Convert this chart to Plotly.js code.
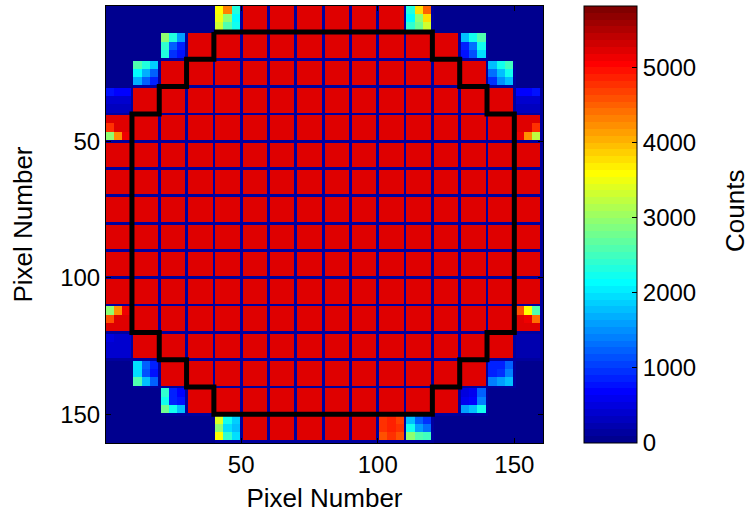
<!DOCTYPE html>
<html>
<head>
<meta charset="utf-8">
<script src="https://cdn.plot.ly/plotly-3.0.1.min.js"></script>
<style>html,body{margin:0;padding:0;background:#fff;}#chart{width:751px;height:513px;}</style>
</head>
<body>
<div id="chart"></div>
<script>
// ---- data ----
// mean counts per 10x10 detector tile (16 x 16 tiles, top row first); 0 = partial tile (see partialTiles)
const tileCounts = [
  [30,30,30,30,0,5250,5250,5250,5250,5250,5250,0,30,30,30,30],
  [30,30,0,5250,5250,5250,5250,5250,5250,5250,5250,5250,5250,0,30,30],
  [30,0,5250,5250,5250,5250,5250,5250,5250,5250,5250,5250,5250,5250,0,30],
  [0,5250,5250,5250,5250,5250,5250,5250,5250,5250,5250,5250,5250,5250,5250,0],
  [0,5250,5250,5250,5250,5250,5250,5250,5250,5250,5250,5250,5250,5250,5250,0],
  [5250,5250,5250,5250,5250,5250,5250,5250,5250,5250,5250,5250,5250,5250,5250,5250],
  [5250,5250,5250,5250,5250,5250,5250,5250,5250,5250,5250,5250,5250,5250,5250,5250],
  [5250,5250,5250,5250,5250,5250,5250,5250,5250,5250,5250,5250,5250,5250,5250,5250],
  [5250,5250,5250,5250,5250,5250,5250,5250,5250,5250,5250,5250,5250,5250,5250,5250],
  [5250,5250,5250,5250,5250,5250,5250,5250,5250,5250,5250,5250,5250,5250,5250,5250],
  [5250,5250,5250,5250,5250,5250,5250,5250,5250,5250,5250,5250,5250,5250,5250,5250],
  [0,5250,5250,5250,5250,5250,5250,5250,5250,5250,5250,5250,5250,5250,5250,0],
  [0,5250,5250,5250,5250,5250,5250,5250,5250,5250,5250,5250,5250,5250,5250,0],
  [30,0,5250,5250,5250,5250,5250,5250,5250,5250,5250,5250,5250,5250,0,30],
  [30,30,0,5250,5250,5250,5250,5250,5250,5250,5250,5250,5250,0,30,30],
  [30,30,30,30,0,5250,5250,5250,5250,5250,0,0,30,30,30,30]
];
// partial (edge) tiles: [tileRow, tileCol, 3x3 sub-block counts, top row first]
const partialTiles = [
  [0, 4,  [3600,4300,2300, 3500,3000,2100, 3300,2600,2200]],
  [1, 2,  [3000,2300,1600, 2400,1200,900, 2300,1000,800]],
  [2, 1,  [2600,2300,1900, 2100,1700,1200, 1700,1200,900]],
  [3, 0,  [800,700,700, 450,400,400, 350,350,350]],
  [4, 0,  [5250,5250,5250, 4800,5250,5250, 3000,4200,5100]],
  [0, 11, [2300,3800,4500, 2100,3000,3800, 2400,2800,3300]],
  [1, 13, [1800,2200,2600, 900,1300,2200, 800,1100,2000]],
  [2, 14, [1800,2200,2500, 1300,1800,2200, 1000,1500,1800]],
  [3, 15, [700,700,800, 400,400,450, 350,350,350]],
  [4, 15, [5250,5250,5250, 5250,5250,4800, 5100,4200,3200]],
  [11, 0, [3000,4200,5100, 4600,5250,5250, 5250,5250,5250]],
  [12, 0, [500,450,450, 450,400,400, 400,400,450]],
  [13, 1, [2000,1200,900, 2000,1100,800, 2600,1800,1200]],
  [14, 2, [2400,900,700, 2200,900,800, 2800,2200,1800]],
  [15, 4, [3400,2200,1900, 3000,2000,1800, 3600,2400,2000]],
  [11, 15,[4600,3600,2600, 5250,5100,4400, 5250,5250,5250]],
  [12, 15,[250,250,250, 200,200,200, 200,200,250]],
  [13, 14,[900,900,1200, 900,1000,1400, 1400,1600,1800]],
  [14, 13,[500,600,1200, 600,700,1400, 1600,1800,2200]],
  [15, 11,[1800,1200,1000, 2200,1600,1300, 3000,2600,2500]],
  [15, 10,[4800,4900,4700, 4800,4900,4800, 4600,4800,4600]]
];
const gapCounts = 120;        // counts on the 1-pixel seams between active tiles
const backgroundCounts = 30;  // counts outside the detector
// outline of the selected region (pixel coordinates)
const outlineX = [40,120,120,130,130,140,140,150,150,140,140,130,130,120,120,40,40,30,30,20,20,10,10,20,20,30,30,40,40];
const outlineY = [10,10,20,20,30,30,40,40,120,120,130,130,140,140,150,150,140,140,130,130,120,120,40,40,30,30,20,20,10];
const colorTicks = [0,1000,2000,3000,4000,5000];
const axisTicks = [50,100,150];

// ---- build pixel image from the tile table ----
const N = 160, T = 10;
const partialMap = {};
partialTiles.forEach(p => { partialMap[p[0] + '_' + p[1]] = p[2]; });
const pix = [];
for (let i = 0; i < N; i++) pix.push(i + 1);
const z = [];
for (let r = 0; r < N; r++) {
  const row = [];
  const tr = Math.floor(r / T), lr = r % T;
  for (let c = 0; c < N; c++) {
    const tc = Math.floor(c / T), lc = c % T;
    const key = tr + '_' + tc;
    const base = tileCounts[tr][tc];
    const isBg = !(key in partialMap) && base <= backgroundCounts;
    let v;
    if (lr === T - 1 || lc === T - 1) {
      v = isBg ? backgroundCounts : gapCounts;
    } else if (key in partialMap) {
      v = partialMap[key][Math.floor(lr / 3) * 3 + Math.floor(lc / 3)];
    } else {
      v = base;
    }
    row.push(v);
  }
  z.push(row);
}

// ---- MATLAB jet(64) colour map ----
function jet64() {
  const m = 64, n = 16, u = [];
  for (let i = 1; i <= n; i++) u.push(i / n);
  for (let i = 0; i < n - 1; i++) u.push(1);
  for (let i = n; i >= 1; i--) u.push(i / n);
  const J = []; for (let i = 0; i < m; i++) J.push([0,0,0]);
  for (let k = 0; k < u.length; k++) {
    const g = 8 + k + 1, rr = g + n, b = g - n;
    if (rr >= 1 && rr <= m) J[rr-1][0] = u[k];
    if (g >= 1 && g <= m) J[g-1][1] = u[k];
    if (b >= 1 && b <= m) J[b-1][2] = u[k];
  }
  const cs = [];
  for (let i = 0; i < m; i++) {
    const col = 'rgb(' + J[i].map(v => Math.round(v * 255)).join(',') + ')';
    cs.push([i / m, col]); cs.push([(i + 1) / m, col]);
  }
  return cs;
}

const family = 'Liberation Sans, Arial, Helvetica, sans-serif';
const tickFont = {family: family, size: 24, color: '#000'};
const titleFont = {family: family, size: 26, color: '#000'};

const traces = [
  {
    type: 'heatmap', x: pix, y: pix, z: z, zsmooth: false,
    zmin: 0, zmax: 5820, colorscale: jet64(), hoverinfo: 'skip',
    colorbar: {
      x: (584 - 106) / 437, xanchor: 'left', xpad: 0, ypad: 0,
      y: 0.5, yanchor: 'middle', len: 1, lenmode: 'fraction',
      thickness: 53, thicknessmode: 'pixels',
      outlinewidth: 1, outlinecolor: '#000',
      tickvals: colorTicks, ticktext: colorTicks.map(String),
      ticks: 'inside', ticklen: 5, tickcolor: '#000', tickwidth: 1,
      tickfont: tickFont
    }
  },
  {
    type: 'scatter', mode: 'lines', x: outlineX, y: outlineY,
    line: {color: '#000', width: 5}, hoverinfo: 'skip', showlegend: false
  }
];

const axisCommon = {
  tickvals: axisTicks, ticktext: axisTicks.map(String),
  ticks: 'inside', ticklen: 5, tickcolor: '#000', tickwidth: 1,
  showline: true, linecolor: '#000', linewidth: 1, mirror: 'allticks',
  showgrid: false, zeroline: false, tickfont: tickFont
};

const layout = {
  width: 751, height: 513,
  margin: {l: 106, r: 208, t: 6, b: 70, pad: 0},
  paper_bgcolor: '#fff', plot_bgcolor: '#fff',
  font: tickFont, showlegend: false,
  xaxis: Object.assign({}, axisCommon, {
    range: [0.5, 160.5], title: {text: 'Pixel Number', font: titleFont, standoff: 13}
  }),
  yaxis: Object.assign({}, axisCommon, {
    range: [160.5, 0.5], title: {text: 'Pixel Number', font: titleFont, standoff: 20}
  }),
  annotations: [{
    text: 'Counts', xref: 'paper', yref: 'paper',
    x: (735 - 106) / 437, y: (443 - 211) / 437,
    xanchor: 'center', yanchor: 'middle', textangle: -90,
    showarrow: false, font: titleFont, borderpad: 0
  }]
};

Plotly.newPlot('chart', traces, layout, {displayModeBar: false, staticPlot: true});
</script>
</body>
</html>
